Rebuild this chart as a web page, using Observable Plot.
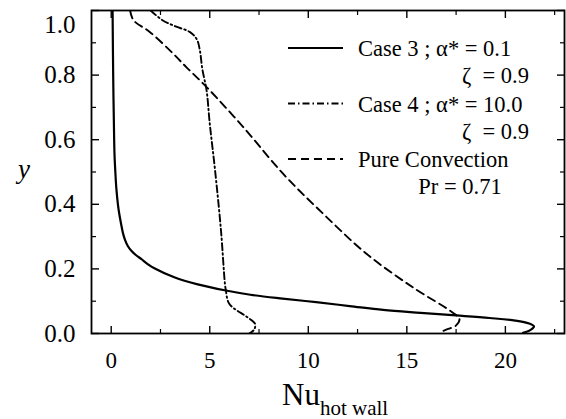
<!DOCTYPE html>
<html>
<head>
<meta charset="utf-8">
<script src="https://cdn.jsdelivr.net/npm/d3@7"></script>
<script src="https://cdn.jsdelivr.net/npm/@observablehq/plot@0.6"></script>
<style>
  html, body { margin: 0; padding: 0; background: #fff; }
  #chart { width: 566px; height: 419px; }
</style>
</head>
<body>
<div id="chart"></div>
<script>
// Case 3 ; alpha* = 0.1, zeta = 0.9  (x = Nu, y = y)
const case3X = [0.07, 0.1, 0.15, 0.17, 0.21, 0.26, 0.34, 0.41, 0.5, 0.6, 0.7, 0.85, 1.01, 1.25, 1.52, 1.85, 2.19, 3.2, 4.39, 5.82, 7.06, 8.7, 10.4, 12.1, 13.8, 15.7, 17.5, 19.2, 20.5, 21.2, 21.45, 21.3, 20.9];
const case3Y = [1.0, 0.8, 0.6, 0.55, 0.5, 0.45, 0.4, 0.37, 0.34, 0.31, 0.29, 0.27, 0.257, 0.243, 0.231, 0.215, 0.202, 0.174, 0.152, 0.133, 0.12, 0.108, 0.097, 0.085, 0.073, 0.064, 0.056, 0.048, 0.040, 0.031, 0.022, 0.012, 0.002];
// Case 4 ; alpha* = 10.0, zeta = 0.9
const case4X = [2.0, 2.6, 3.3, 4.0, 4.35, 4.5, 4.62, 4.84, 5.0, 5.27, 5.57, 5.77, 5.82, 5.99, 6.92, 7.3, 7.25, 7.0];
const case4Y = [1.0, 0.97, 0.95, 0.933, 0.91, 0.876, 0.82, 0.752, 0.65, 0.505, 0.319, 0.154, 0.133, 0.092, 0.05, 0.03, 0.012, 0.0];
// Pure Convection, Pr = 0.71
const pureX = [0.96, 1.13, 1.97, 3.15, 3.82, 4.84, 6.7, 8.73, 10.75, 12.95, 15.3, 17.3, 17.67, 17.5, 17.1, 16.66];
const pureY = [1.0, 0.97, 0.933, 0.866, 0.824, 0.763, 0.639, 0.494, 0.371, 0.247, 0.143, 0.066, 0.045, 0.025, 0.014, 0.004];

const xMajor = [0, 5, 10, 15, 20];
const xMinor = [2.5, 7.5, 12.5, 17.5, 22.5];
const yMajor = [0, 0.2, 0.4, 0.6, 0.8, 1.0];
const yMinor = [0.1, 0.3, 0.5, 0.7, 0.9];

const legendLabels = [
  ["Case 3 ; α* = 0.1", "ζ  = 0.9"],
  ["Case 4 ; α* = 10.0", "ζ  = 0.9"],
  ["Pure Convection", "Pr = 0.71"]
];
const dashes = [null, "7,3,1.5,3", "8,5"];

const FONT = "Liberation Serif";

const toRows = (xs, ys) => xs.map((x, i) => ({x, y: ys[i]}));
const series = [toRows(case3X, case3Y), toRows(case4X, case4Y), toRows(pureX, pureY)];

const noText = () => "";
const plot = Plot.plot({
  width: 566,
  height: 419,
  marginLeft: 91,
  marginRight: 2,
  marginTop: 10,
  marginBottom: 86,
  x: {domain: [-1, 23], label: null},
  y: {domain: [0, 1], label: null},
  style: {color: "#000", background: "#fff"},
  marks: [
    Plot.axisX({ticks: xMajor, tickSize: -7, tickFormat: noText, label: null, strokeWidth: 1.4}),
    Plot.axisX({ticks: xMinor, tickSize: -4, tickFormat: noText, label: null, strokeWidth: 1.2}),
    Plot.axisX({anchor: "top", ticks: xMajor, tickSize: -7, tickFormat: noText, label: null, strokeWidth: 1.4}),
    Plot.axisX({anchor: "top", ticks: xMinor, tickSize: -4, tickFormat: noText, label: null, strokeWidth: 1.2}),
    Plot.axisY({ticks: yMajor, tickSize: -8, tickFormat: noText, label: null, strokeWidth: 1.4}),
    Plot.axisY({ticks: yMinor, tickSize: -5, tickFormat: noText, label: null, strokeWidth: 1.2}),
    Plot.axisY({anchor: "right", ticks: yMajor, tickSize: -8, tickFormat: noText, label: null, strokeWidth: 1.4}),
    Plot.axisY({anchor: "right", ticks: yMinor, tickSize: -5, tickFormat: noText, label: null, strokeWidth: 1.2}),
    Plot.axisX({ticks: xMajor, tickSize: 0, tickPadding: 18, fontSize: 23, label: null, tickFormat: d3.format("d"), fontFamily: FONT}),
    Plot.axisY({ticks: yMajor, tickSize: 0, tickPadding: 16, fontSize: 25, label: null, tickFormat: d3.format(".1f"), fontFamily: FONT}),
    Plot.frame({stroke: "#000", strokeWidth: 1.8}),
    ...series.map((data, i) => Plot.line(data, {
      x: "x", y: "y", curve: "catmull-rom", stroke: "#000",
      strokeWidth: i === 0 ? 2.2 : 1.9,
      strokeDasharray: dashes[i] ?? undefined,
      clip: true
    }))
  ]
});

document.getElementById("chart").appendChild(plot);

const svg = d3.select(plot);

// the "1.0" label sits a little lower, as in the original figure
svg.selectAll("g[aria-label='y-axis tick label'] text")
  .each(function() {
    if (this.textContent === "1.0") {
      this.setAttribute("transform", (this.getAttribute("transform") || "") + " translate(0,14)");
    }
  });

// axis titles
svg.append("text")
  .attr("x", 24).attr("y", 178)
  .attr("text-anchor", "middle")
  .attr("font-style", "italic")
  .attr("font-size", 27)
  .attr("fill", "#000")
  .text("y");

const xt = svg.append("text")
  .attr("x", 282).attr("y", 405)
  .attr("text-anchor", "start")
  .attr("font-size", 31)
  .attr("fill", "#000");
xt.append("tspan").text("Nu");
xt.append("tspan").attr("font-size", 21).attr("dy", 10).text("hot wall");

// legend
const legend = svg.append("g")
  .attr("fill", "#000")
  .attr("font-size", 22.5)
  .attr("text-anchor", "start");
legendLabels.forEach((labels, i) => {
  const base = 56 + i * 55.5;
  legend.append("line")
    .attr("x1", 288).attr("x2", 343)
    .attr("y1", base - 8).attr("y2", base - 8)
    .attr("stroke", "#000")
    .attr("stroke-width", i === 0 ? 2.2 : 1.9)
    .attr("stroke-dasharray", dashes[i]);
  legend.append("text").attr("x", 358).attr("y", base).attr("text-anchor", "start").text(labels[0]);
  if (i === 2) {
    legend.append("text").attr("x", 460).attr("y", base + 27).attr("text-anchor", "middle").text(labels[1]);
  } else {
    legend.append("text").attr("x", 529).attr("y", base + 27).attr("text-anchor", "end")
      .style("white-space", "pre").text(labels[1]);
  }
});

svg.selectAll("text").attr("font-family", FONT);
</script>
</body>
</html>
